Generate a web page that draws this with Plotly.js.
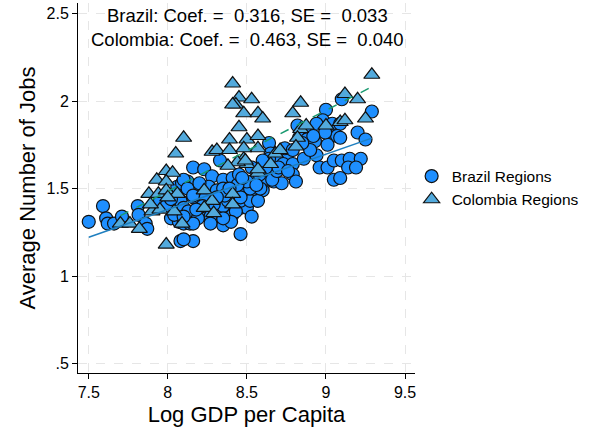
<!DOCTYPE html>
<html>
<head>
<meta charset="utf-8">
<script src="https://cdn.plot.ly/plotly-3.0.1.min.js"></script>
<style>
  html, body { margin: 0; padding: 0; background: #fff; }
  #chart { width: 590px; height: 434px; }
</style>
</head>
<body>
<div id="chart"></div>
<script>
// Brazil regions (circles)
const brazilX = [7.50, 7.59, 7.61, 7.62, 7.66, 7.71, 7.81, 7.815, 7.86, 7.87, 7.95, 7.99,
  8.02, 8.07, 8.10, 8.08, 8.16, 8.46, 8.16, 8.23, 8.125, 8.06, 8.09, 8.28, 8.35, 8.41,
  8.48, 8.33, 8.16, 8.19, 8.26, 8.08, 8.02, 8.10, 8.04, 8.16, 8.21, 8.14, 8.33, 8.38,
  8.35, 8.41, 8.46, 8.50, 8.44, 8.50, 8.33, 8.55, 8.62, 8.65, 8.67, 8.64, 8.65, 8.69,
  8.10, 8.125, 8.16, 8.20, 8.31, 8.35, 8.49, 8.60, 8.55, 8.46, 8.52, 8.57, 8.35, 8.38,
  8.43, 8.40, 8.35, 8.27, 8.13, 8.19, 8.16, 8.10, 8.10, 9.00, 9.10, 9.29, 8.98, 8.94,
  9.04, 9.09, 8.82, 8.87, 8.83, 8.88, 8.93, 9.03, 9.07, 9.01, 9.09, 9.20, 9.25, 8.64,
  8.76, 8.73, 8.79, 8.86, 8.94, 8.96, 9.01, 9.05, 9.10, 9.15, 9.22, 9.14, 9.19, 9.05,
  9.09, 8.72, 8.79, 8.81, 8.66, 8.585, 8.52, 8.53, 8.50, 8.46, 8.69, 8.62, 8.74, 8.79,
  8.995, 8.24, 8.29, 8.44, 8.58, 8.70, 8.90, 8.92, 8.53, 8.45, 8.36, 8.22, 8.31, 8.39,
  8.47, 8.56, 8.27, 8.18, 8.60, 8.76, 8.85];
const brazilY = [1.31, 1.40, 1.33, 1.30, 1.30, 1.34, 1.40, 1.35, 1.30, 1.27, 1.43, 1.40,
  1.33, 1.31, 1.30, 1.20, 1.20, 1.24, 1.62, 1.61, 1.54, 1.51, 1.53, 1.57, 1.55, 1.56,
  1.54, 1.66, 1.45, 1.50, 1.51, 1.43, 1.44, 1.39, 1.35, 1.35, 1.35, 1.30, 1.39, 1.35,
  1.29, 1.35, 1.39, 1.39, 1.47, 1.50, 1.43, 1.55, 1.54, 1.59, 1.54, 1.76, 1.70, 1.66,
  1.55, 1.50, 1.46, 1.53, 1.49, 1.50, 1.49, 1.49, 1.47, 1.43, 1.43, 1.43, 1.40, 1.43,
  1.37, 1.31, 1.33, 1.34, 1.37, 1.33, 1.30, 1.34, 1.21, 1.95, 2.01, 1.94, 1.89, 1.87,
  1.87, 1.87, 1.86, 1.82, 1.79, 1.78, 1.77, 1.80, 1.80, 1.75, 1.79, 1.82, 1.78, 1.67,
  1.70, 1.64, 1.64, 1.67, 1.69, 1.62, 1.62, 1.66, 1.66, 1.67, 1.67, 1.62, 1.62, 1.55,
  1.56, 1.53, 1.58, 1.54, 1.55, 1.50, 1.50, 1.34, 1.54, 1.45, 1.60, 1.62, 1.73, 1.72,
  1.82, 1.45, 1.41, 1.52, 1.58, 1.62, 1.72, 1.80, 1.62, 1.58, 1.46, 1.40, 1.45, 1.50,
  1.56, 1.52, 1.30, 1.38, 1.66, 1.60, 1.76];

// Colombia regions (triangles)
const colombiaX = [8.41, 8.45, 8.53, 8.43, 8.48, 8.57, 8.60, 8.45, 8.39, 8.50, 8.57, 8.10,
  8.28, 8.31, 8.39, 8.48, 8.50, 8.44, 8.38, 8.57, 8.05, 7.99, 8.03, 7.93, 7.99, 7.88,
  7.94, 7.99, 8.06, 8.00, 7.90, 7.95, 8.04, 7.70, 7.76, 7.82, 8.09, 7.99, 8.23, 8.28,
  8.23, 8.29, 8.41, 8.41, 7.89, 8.57, 8.65, 9.29, 9.12, 9.20, 8.84, 8.79, 9.25, 9.09,
  9.12, 9.00, 8.84, 8.875, 8.82, 8.81, 8.68, 8.71, 8.57, 8.49, 8.48, 8.41];
const colombiaY = [2.10, 2.02, 2.01, 1.98, 1.93, 1.93, 1.90, 1.85, 1.78, 1.78, 1.80, 1.79,
  1.71, 1.72, 1.72, 1.67, 1.64, 1.65, 1.63, 1.73, 1.70, 1.60, 1.59, 1.55, 1.54, 1.47,
  1.47, 1.49, 1.47, 1.45, 1.37, 1.38, 1.37, 1.30, 1.30, 1.27, 1.30, 1.18, 1.49, 1.43,
  1.39, 1.36, 1.47, 1.41, 1.41, 1.59, 1.64, 2.15, 2.04, 2.01, 1.99, 1.93, 1.90, 1.88,
  1.89, 1.86, 1.84, 1.86, 1.79, 1.74, 1.70, 1.72, 1.61, 1.66, 1.73, 1.98];

// linear fits (end points)
const brazilFitX = [7.50, 9.29];
const brazilFitY = [1.222, 1.788];
const colombiaFitX = [7.70, 9.29];
const colombiaFitY = [1.345, 2.081];

const xTicks = [7.5, 8, 8.5, 9, 9.5];
const xTickText = ['7.5', '8', '8.5', '9', '9.5'];
const yTicks = [0.5, 1, 1.5, 2, 2.5];
const yTickText = ['.5', '1', '1.5', '2', '2.5'];

const noteLines = ['Brazil: Coef. =  0.316, SE =  0.033',
                   'Colombia: Coef. =  0.463, SE =  0.040'];

const FONT = 'Liberation Sans, Arial, Helvetica, sans-serif';

const data = [
  {
    type: 'scatter', mode: 'markers', name: 'Brazil Regions',
    x: brazilX, y: brazilY,
    marker: { symbol: 'circle', size: 13, color: '#1e8fff', line: { color: '#111', width: 1.2 } }
  },
  {
    type: 'scatter', mode: 'markers', name: 'Colombia Regions',
    x: colombiaX, y: colombiaY,
    marker: { symbol: 'triangle-up', size: 14, color: '#52aadd', line: { color: '#111', width: 1.2 } }
  },
  {
    type: 'scatter', mode: 'lines', showlegend: false, hoverinfo: 'skip',
    x: brazilFitX, y: brazilFitY,
    line: { color: '#1f7fbf', width: 1.5 }
  },
  {
    type: 'scatter', mode: 'lines', showlegend: false, hoverinfo: 'skip',
    x: colombiaFitX, y: colombiaFitY,
    line: { color: '#1a9a70', width: 1.5, dash: 'dash' }
  }
];

const layout = {
  width: 590, height: 434,
  margin: { l: 78, r: 175, t: 3, b: 61 },
  paper_bgcolor: '#fff', plot_bgcolor: '#fff',
  font: { family: FONT, color: '#000' },
  showlegend: true,
  legend: {
    x: 0.99, xanchor: 'left', y: 0.5, yanchor: 'middle',
    font: { size: 15.5, family: FONT }, bgcolor: 'rgba(0,0,0,0)'
  },
  xaxis: {
    range: [7.432, 9.563],
    tickvals: xTicks, ticktext: xTickText,
    ticks: 'outside', ticklen: 5, tickcolor: '#000',
    tickfont: { size: 16 },
    showline: true, linecolor: '#000', linewidth: 1,
    showgrid: true, gridcolor: '#e6e6e6', griddash: 'dash', gridwidth: 1,
    zeroline: false,
    title: { text: 'Log GDP per Capita', font: { size: 22 }, standoff: 6 }
  },
  yaxis: {
    range: [0.446, 2.56],
    tickvals: yTicks, ticktext: yTickText,
    ticks: 'outside', ticklen: 5, tickcolor: '#000',
    tickfont: { size: 16 },
    showline: true, linecolor: '#000', linewidth: 1,
    showgrid: true, gridcolor: '#e6e6e6', griddash: 'dash', gridwidth: 1,
    zeroline: false,
    title: { text: 'Average Number of Jobs', font: { size: 22 }, standoff: 4 }
  },
  annotations: [{
    xref: 'paper', yref: 'paper', x: 0.504, y: 1.0,
    xanchor: 'center', yanchor: 'top', showarrow: false,
    text: noteLines.join('<br>'),
    font: { size: 18.5, family: FONT }
  }]
};

Plotly.newPlot('chart', data, layout, { displayModeBar: false, staticPlot: true });
</script>
</body>
</html>
